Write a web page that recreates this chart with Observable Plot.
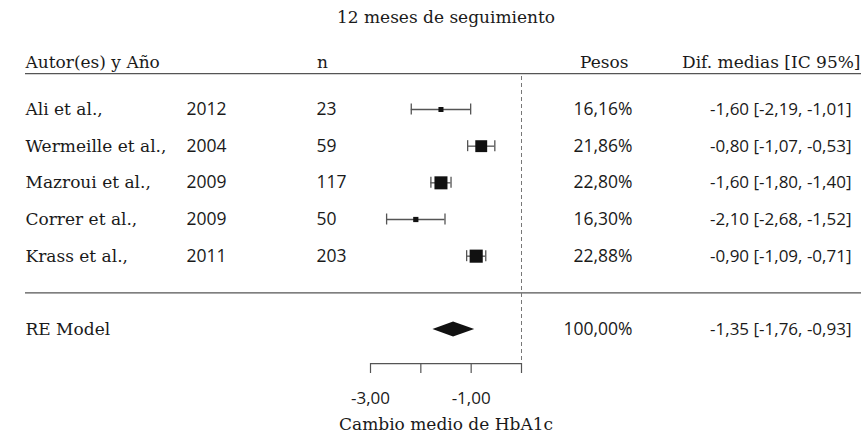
<!DOCTYPE html>
<html>
<head>
<meta charset="utf-8">
<script src="https://cdn.jsdelivr.net/npm/d3@7"></script>
<script src="https://cdn.jsdelivr.net/npm/@observablehq/plot@0.6"></script>
<style>
  html, body { margin: 0; padding: 0; background: #fff; }
</style>
</head>
<body>
<div id="chart"></div>
<script>
// ---- data ----
const authors = ["Ali et al.,", "Wermeille et al.,", "Mazroui et al.,", "Correr et al.,", "Krass et al.,"];
const years = ["2012", "2004", "2009", "2009", "2011"];
const ns = [23, 59, 117, 50, 203];
const weights = [16.16, 21.86, 22.80, 16.30, 22.88];
const estimates = [-1.60, -0.80, -1.60, -2.10, -0.90];
const lowers = [-2.19, -1.07, -1.80, -2.68, -1.09];
const uppers = [-1.01, -0.53, -1.40, -1.52, -0.71];
const reLabel = "RE Model";
const reWeight = 100.00;
const reEstimate = -1.35;
const reLower = -1.76;
const reUpper = -0.93;
const xTicks = [-3, -2, -1, 0];
const xTickLabels = [-3, -1];
const title = "12 meses de seguimiento";
const headers = ["Autor(es) y Año", "n", "Pesos", "Dif. medias [IC 95%]"];
const axisLabel = "Cambio medio de HbA1c";

// ---- helpers ----
const locale = d3.formatLocale({decimal: ",", thousands: ".", grouping: [3], currency: ["", ""], minus: "-"});
const f2 = locale.format(".2f");
const ci = (e, l, u) => `${f2(e)} [${f2(l)}, ${f2(u)}]`;

const studies = authors.map((a, i) => ({
  row: i, author: a, year: years[i], n: ns[i], w: weights[i],
  est: estimates[i], lo: lowers[i], hi: uppers[i]
}));
const reRow = studies.length + 1;
const sepRow = studies.length;
const re = {row: reRow, author: reLabel, w: reWeight, est: reEstimate, lo: reLower, hi: reUpper};

// layout rows (vertical placement in row units)
const L = {title: -2.5, header: -1.28, headerRule: -0.98, axisRule: 6.93, axisLabel: 8.6, cap: 0.15, diamond: 0.205};

const serif = "DejaVu Serif";
const sans = "Open Sans";
const ink = "#1a1a1a";
const grey = "#555";

const diamond = [
  {x: re.lo, y1: re.row, y2: re.row},
  {x: re.est, y1: re.row - L.diamond, y2: re.row + L.diamond},
  {x: re.hi, y1: re.row, y2: re.row}
];

const allRows = [...studies, re];

const chart = Plot.plot({
  width: 861,
  height: 441,
  marginLeft: 25,
  marginRight: 0,
  marginTop: 76,
  marginBottom: 78,
  x: {domain: [-3, 0], range: [370, 521]},
  y: {domain: [0, reRow], range: [109, 329], axis: null},
  r: {type: "linear", domain: d3.extent(weights), range: [2.85, 7.4]},
  style: {fontFamily: sans, fontSize: "17px", color: ink, background: "#fff"},
  marks: [
    // horizontal rules
    Plot.ruleY([L.headerRule, sepRow], {stroke: grey, strokeWidth: 1.2}),
    // reference line at 0
    Plot.ruleX([0], {stroke: "#777", strokeDasharray: "4,3", strokeWidth: 1}),
    // x axis line
    Plot.ruleY([L.axisRule], {x1: xTicks[0], x2: xTicks[xTicks.length - 1], stroke: grey, strokeWidth: 1.2}),
    Plot.axisX({
      ticks: xTicks, tickSize: 10, tickPadding: 18,
      tickFormat: d => xTickLabels.includes(d) ? f2(d) : "",
      stroke: grey, strokeWidth: 1.2, fill: ink,
      fontFamily: sans, fontSize: 17, label: null
    }),
    // whiskers
    Plot.ruleY(studies, {y: "row", x1: "lo", x2: "hi", stroke: grey, strokeWidth: 1.3}),
    Plot.ruleX(studies.flatMap(d => [d.lo, d.hi].map(x => ({x, row: d.row}))), {
      x: "x", y1: d => d.row - L.cap, y2: d => d.row + L.cap, stroke: grey, strokeWidth: 1.3
    }),
    // squares
    Plot.dot(studies, {x: "est", y: "row", r: "w", symbol: "square", fill: "#111", stroke: null}),
    // diamond
    Plot.area(diamond, {x1: "x", y1: "y1", y2: "y2", fill: "#111"}),
    // title
    Plot.text([title], {x: (xTicks[0] + xTicks[xTicks.length - 1]) / 2, y: () => L.title, fontFamily: serif, fontSize: 17, fill: ink}),
    // headers
    Plot.text([headers[0]], {y: () => L.header, frameAnchor: "left", textAnchor: "start", fontFamily: serif, fontSize: 17, fill: ink}),
    Plot.text([headers[1]], {y: () => L.header, frameAnchor: "left", dx: 297, textAnchor: "middle", fontFamily: serif, fontSize: 17, fill: ink}),
    Plot.text([headers[2]], {y: () => L.header, frameAnchor: "left", dx: 603, textAnchor: "end", fontFamily: serif, fontSize: 17, fill: ink}),
    Plot.text([headers[3]], {y: () => L.header, frameAnchor: "left", dx: 835, textAnchor: "end", fontFamily: serif, fontSize: 17, fill: ink}),
    // study columns
    Plot.text(allRows, {y: "row", text: "author", frameAnchor: "left", textAnchor: "start", fontFamily: serif, fontSize: 17, fill: ink}),
    Plot.text(studies, {y: "row", text: "year", frameAnchor: "left", dx: 161, textAnchor: "start", fontFamily: sans, fontSize: 17.5, fill: ink}),
    Plot.text(studies, {y: "row", text: d => String(d.n), frameAnchor: "left", dx: 291, textAnchor: "start", fontFamily: sans, fontSize: 17.5, fill: ink}),
    Plot.text(allRows, {y: "row", text: d => f2(d.w) + "%", frameAnchor: "left", dx: 607, textAnchor: "end", fontFamily: sans, fontSize: 17.5, fill: ink}),
    Plot.text(allRows, {y: "row", text: d => ci(d.est, d.lo, d.hi), frameAnchor: "left", dx: 826, textAnchor: "end", fontFamily: sans, fontSize: 17, fill: ink}),
    // axis label
    Plot.text([axisLabel], {x: (xTicks[0] + xTicks[xTicks.length - 1]) / 2, y: () => L.axisLabel, fontFamily: serif, fontSize: 17, fill: ink})
  ]
});
document.getElementById("chart").appendChild(chart);
</script>
</body>
</html>
